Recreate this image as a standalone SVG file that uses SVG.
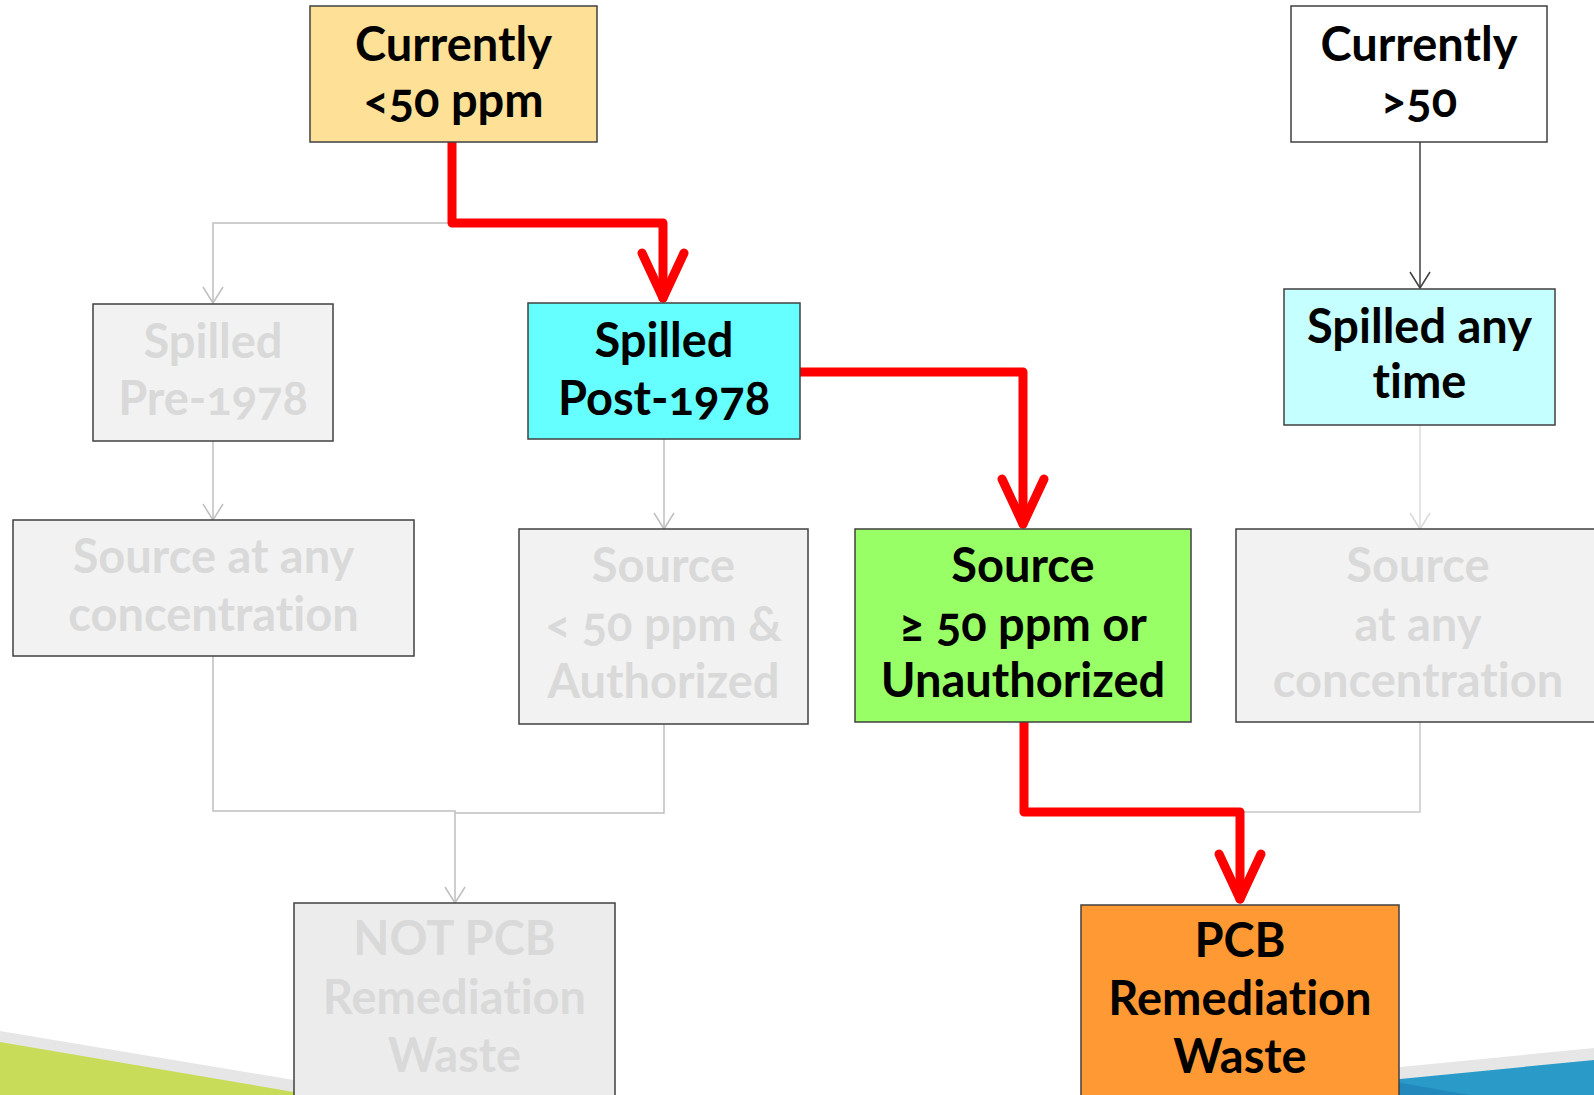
<svg xmlns="http://www.w3.org/2000/svg" width="1594" height="1095" viewBox="0 0 1594 1095">
<style>
.box{stroke:#404040;stroke-width:1.5}
.t{font-family:Lato,"Open Sans","Liberation Sans",sans-serif;font-weight:700;font-size:47px;text-anchor:middle;fill:#000;font-variant-ligatures:none;font-feature-settings:"liga" 0,"clig" 0,"dlig" 0,"onum" 1}
.f{fill:#d9d9d9}
.c{fill:none;stroke-width:1.5}
.red{fill:none;stroke:#ff0000;stroke-width:9;stroke-linejoin:round;stroke-linecap:round}
</style>
<defs>
<marker id="aGrey" viewBox="-18 -12 20 24" refX="0" refY="0" markerWidth="20" markerHeight="24" markerUnits="userSpaceOnUse" orient="auto">
<path d="M-16,-10 L0,0 L-16,10" fill="none" stroke="#bfbfbf" stroke-width="1.5"/>
</marker>
<marker id="aLight" viewBox="-18 -12 20 24" refX="0" refY="0" markerWidth="20" markerHeight="24" markerUnits="userSpaceOnUse" orient="auto">
<path d="M-16,-10 L0,0 L-16,10" fill="none" stroke="#d9d9d9" stroke-width="1.5"/>
</marker>
<marker id="aDark" viewBox="-18 -12 20 24" refX="0" refY="0" markerWidth="20" markerHeight="24" markerUnits="userSpaceOnUse" orient="auto">
<path d="M-16,-10 L0,0 L-16,10" fill="none" stroke="#404040" stroke-width="1.5"/>
</marker>
<marker id="aRed" viewBox="-54 -28 60 56" refX="0" refY="0" markerWidth="60" markerHeight="56" markerUnits="userSpaceOnUse" orient="auto">
<path d="M-45,-21 L0,0 L-45,21" fill="none" stroke="#ff0000" stroke-width="9" stroke-linecap="round" stroke-linejoin="round"/>
</marker>
</defs>
<rect width="1594" height="1095" fill="#ffffff"/>
<g id="background">
<polygon points="0,1031 300,1081 300,1095 0,1095" fill="#e6e6e6"/>
<polygon points="0,1042 300,1093 300,1095 0,1095" fill="#c8dc5a"/>
<polygon points="1390,1068 1594,1048 1594,1095 1390,1095" fill="#e6e6e6"/>
<polygon points="1390,1080 1594,1060 1594,1095 1390,1095" fill="#2a9bc8"/>
<polygon points="1390,1081 1470,1095 1390,1095" fill="#2389bd"/>
</g>
<g id="connectors">
<path class="c" stroke="#bfbfbf" d="M452,223 H213 V303" marker-end="url(#aGrey)"/>
<path class="c" stroke="#bfbfbf" d="M213,441 V520" marker-end="url(#aGrey)"/>
<path class="c" stroke="#bfbfbf" d="M664,439 V529" marker-end="url(#aGrey)"/>
<path class="c" stroke="#bfbfbf" d="M213,656 V811 H455 V903" marker-end="url(#aGrey)"/>
<path class="c" stroke="#bfbfbf" d="M664,724 V813 H455"/>
<path class="c" stroke="#404040" d="M1420,142 V288" marker-end="url(#aDark)"/>
<path class="c" stroke="#dcdcdc" d="M1420,425 V529" marker-end="url(#aLight)"/>
<path class="c" stroke="#c8c8c8" d="M1420,722 V812 H1240"/>
<path class="red" d="M452,140 V223 H663 V298" marker-end="url(#aRed)"/>
<path class="red" d="M800,372 H1023 V524" marker-end="url(#aRed)"/>
<path class="red" d="M1024,722 V812 H1240 V899" marker-end="url(#aRed)"/>
</g>
<g id="n-currently-lt50">
<rect class="box" x="310" y="6" width="287" height="136" fill="#fee097"/>
<text class="t" x="453.5" y="61">Currently</text>
<text class="t" x="453.5" y="117">&lt;50 ppm</text>
</g>
<g id="n-currently-gt50">
<rect class="box" x="1291" y="6" width="256" height="136" fill="#ffffff"/>
<text class="t" x="1419" y="61">Currently</text>
<text class="t" x="1419" y="117">&gt;50</text>
</g>
<g id="n-spilled-pre">
<rect class="box" x="93" y="304" width="240" height="137" fill="#f2f2f2"/>
<text class="t f" x="213" y="358">Spilled</text>
<text class="t f" x="213" y="415">Pre-1978</text>
</g>
<g id="n-spilled-post">
<rect class="box" x="528" y="303" width="272" height="136" fill="#66ffff"/>
<text class="t" x="664" y="357">Spilled</text>
<text class="t" x="664" y="415">Post-1978</text>
</g>
<g id="n-spilled-any">
<rect class="box" x="1284" y="289" width="271" height="136" fill="#c5ffff"/>
<text class="t" x="1419.5" y="343">Spilled any</text>
<text class="t" x="1419.5" y="398">time</text>
</g>
<g id="n-source-any-left">
<rect class="box" x="13" y="520" width="401" height="136" fill="#f2f2f2"/>
<text class="t f" x="213.5" y="573">Source at any</text>
<text class="t f" x="213.5" y="631">concentration</text>
</g>
<g id="n-source-lt50">
<rect class="box" x="519" y="529" width="289" height="195" fill="#f2f2f2"/>
<text class="t f" x="663.5" y="582">Source</text>
<text class="t f" x="663.5" y="641">&lt; 50 ppm &amp;</text>
<text class="t f" x="663.5" y="698">Authorized</text>
</g>
<g id="n-source-ge50">
<rect class="box" x="855" y="529" width="336" height="193" fill="#99ff66"/>
<text class="t" x="1023" y="582">Source</text>
<text class="t" x="1023" y="641">≥ 50 ppm or</text>
<text class="t" x="1023" y="697">Unauthorized</text>
</g>
<g id="n-source-any-right">
<rect class="box" x="1236" y="529" width="370" height="193" fill="#f2f2f2"/>
<text class="t f" x="1418" y="582">Source</text>
<text class="t f" x="1418" y="641">at any</text>
<text class="t f" x="1418" y="697">concentration</text>
</g>
<g id="n-not-pcb">
<rect class="box" x="294" y="903" width="321" height="200" fill="#ececec"/>
<text class="t f" x="454.5" y="955">NOT PCB</text>
<text class="t f" x="454.5" y="1014">Remediation</text>
<text class="t f" x="454.5" y="1072">Waste</text>
</g>
<g id="n-pcb">
<rect class="box" x="1081" y="905" width="318" height="200" fill="#ff9933"/>
<text class="t" x="1240" y="957">PCB</text>
<text class="t" x="1240" y="1015">Remediation</text>
<text class="t" x="1240" y="1073">Waste</text>
</g>
</svg>
